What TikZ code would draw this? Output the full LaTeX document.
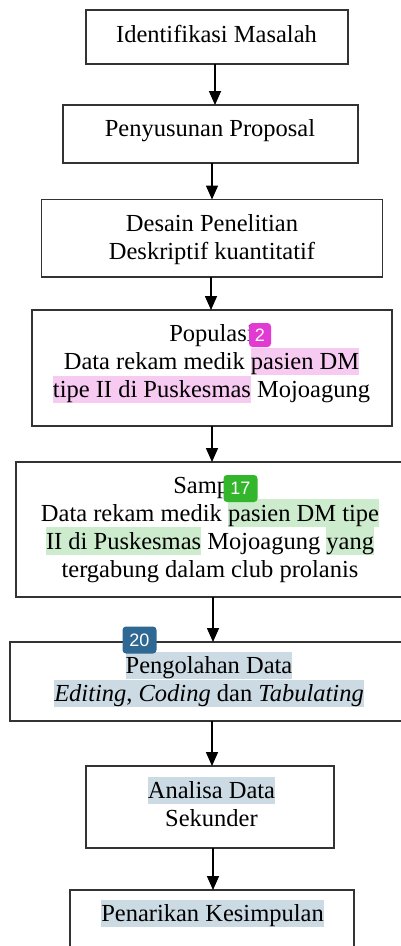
\documentclass[tikz,border=0pt]{standalone}
\usepackage{fontspec}
\setmainfont{Liberation Serif}
\newfontfamily\badgefont{Liberation Sans}
\usetikzlibrary{arrows.meta}
\definecolor{boxline}{HTML}{333333}
\definecolor{hlpink}{HTML}{F7CAF1}
\definecolor{hlgreen}{HTML}{CDEBCD}
\definecolor{hlblue}{HTML}{CCDAE4}
\definecolor{bdpink}{HTML}{E23BD4}
\definecolor{bdgreen}{HTML}{33B52C}
\definecolor{bdblue}{HTML}{2E6893}
\newcommand{\zs}{\rule[-5.3pt]{0pt}{27.1pt}}
\newcommand{\hlx}[2]{{\fboxsep=0pt\colorbox{#1}{\zs#2}}}
\tikzset{
  flowbox/.style={draw=boxline, line width=1.4pt, fill=white},
  flowtext/.style={inner sep=0pt, anchor=north, align=center,
    font=\fontsize{24.5}{28}\selectfont},
  arr/.style={line width=1.6pt, -{Triangle[width=12pt,length=14pt]}},
  badge/.style={rounded corners=3.5pt, text=white, inner sep=0pt,
    font=\badgefont\fontsize{18}{18}\selectfont}
}
\begin{document}
\begin{tikzpicture}[x=1pt,y=-1pt]
\useasboundingbox (0,0) rectangle (401,946);
\begin{scope}
\clip (0,0) rectangle (401,946);
% boxes
\draw[flowbox] (86,10) rectangle (348,64);
\draw[flowbox] (63,105) rectangle (358,163);
\draw[flowbox] (41.5,199.5) rectangle (382.5,277);
\draw[flowbox] (32,310) rectangle (392,426);
\draw[flowbox] (16,462) rectangle (408,597);
\draw[flowbox] (10,642) rectangle (414,721);
\draw[flowbox] (86,766) rectangle (334,848);
\draw[flowbox] (70,890) rectangle (354,970);
% named anchor coordinates for connectors
\coordinate (b1s) at (215,64);
\coordinate (b2n) at (215,105);
\coordinate (b2s) at (212,163);
\coordinate (b3n) at (212,199.5);
\coordinate (b3s) at (211,277);
\coordinate (b4n) at (211,310);
\coordinate (b4s) at (212,426);
\coordinate (b5n) at (212,462);
\coordinate (b5s) at (213,597);
\coordinate (b6n) at (213,642);
\coordinate (b6s) at (212,721);
\coordinate (b7n) at (212,766);
\coordinate (b7s) at (213,848);
\coordinate (b8n) at (213,890);
% texts
\node[flowtext] (t1) at (216.5,20.5) {\zs Identifikasi Masalah};
\node[flowtext] (t2) at (210,114.9) {\zs Penyusunan Proposal};
\node[flowtext] (t3) at (212,209.9) {\zs Desain Penelitian\\\zs Deskriptif kuantitatif};
\node[flowtext] (t4) at (211.5,319.9) {\zs Populasi\\\zs Data rekam medik \hlx{hlpink}{pasien DM}\\\hlx{hlpink}{tipe II di Puskesmas} Mojoagung};
\node[flowtext] (t5) at (210,471.2) {\zs Sampel\\\zs Data rekam medik \hlx{hlgreen}{pasien DM tipe}\\\hlx{hlgreen}{II di Puskesmas} Mojoagung \hlx{hlgreen}{yang}\\\zs tergabung dalam club prolanis};
\node[flowtext] (t6) at (209,651.5) {\hlx{hlblue}{Pengolahan Data}\\\hlx{hlblue}{\textit{Editing}, \textit{Coding} dan \textit{Tabulating}}};
\node[flowtext] (t7) at (211.5,776.5) {\hlx{hlblue}{Analisa Data}\\\zs Sekunder};
\node[flowtext] (t8) at (212.5,899.9) {\hlx{hlblue}{Penarikan Kesimpulan}};
% connectors
\draw[arr] (b1s) -- (b2n);
\draw[arr] (b2s) -- (b3n);
\draw[arr] (b3s) -- (b4n);
\draw[arr] (b4s) -- (b5n);
\draw[arr] (b5s) -- (b6n);
\draw[arr] (b6s) -- (b7n);
\draw[arr] (b7s) -- (b8n);
% badges
\node[badge, fill=bdpink, minimum width=22pt, minimum height=24pt] (g1) at (260,335) {2};
\node[badge, fill=bdgreen, minimum width=34pt, minimum height=27pt] (g2) at (240.5,488.5) {17};
\node[badge, fill=bdblue, minimum width=34pt, minimum height=27pt] (g3) at (139.5,640) {20};
\end{scope}
\end{tikzpicture}
\end{document}
